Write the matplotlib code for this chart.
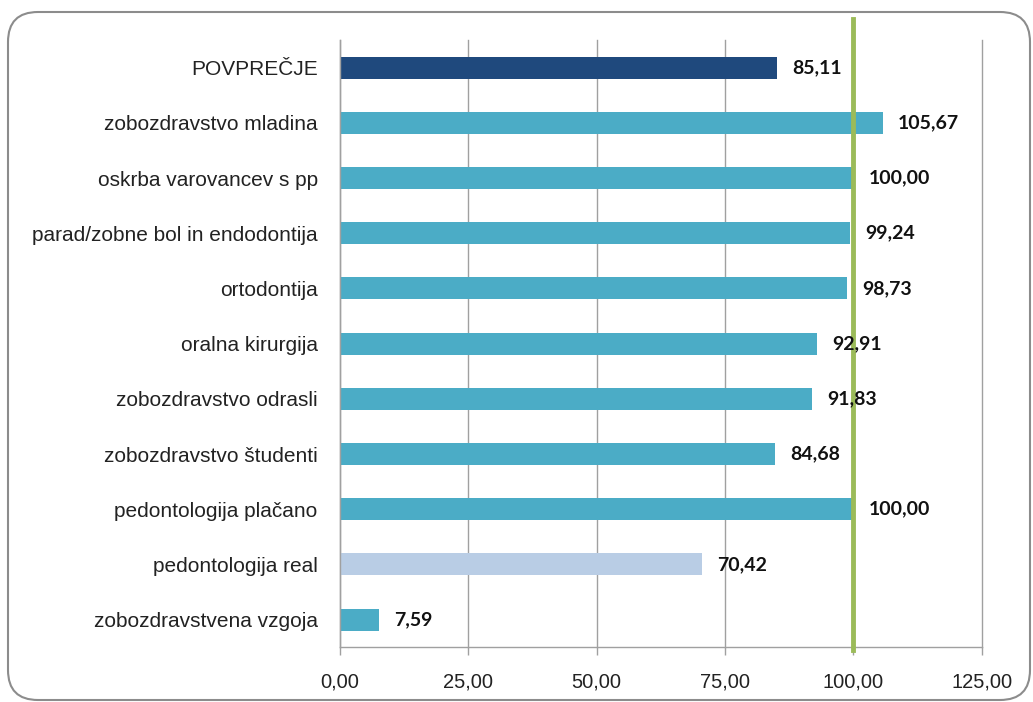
import matplotlib.pyplot as plt
from matplotlib.patches import FancyBboxPatch

# data, top to bottom as in the chart
categories = [
    "POVPREČJE",
    "zobozdravstvo mladina",
    "oskrba varovancev s pp",
    "parad/zobne bol in endodontija",
    "ortodontija",
    "oralna kirurgija",
    "zobozdravstvo odrasli",
    "zobozdravstvo študenti",
    "pedontologija plačano",
    "pedontologija real",
    "zobozdravstvena vzgoja",
]
values = [85.11, 105.67, 100.00, 99.24, 98.73, 92.91, 91.83, 84.68, 100.00, 70.42, 7.59]
bar_colors = ["#1F497D"] + ["#4BACC6"] * 8 + ["#B9CDE5", "#4BACC6"]
target = 100.0
xticks = [0, 25, 50, 75, 100, 125]

plt.rcParams["font.family"] = ["Liberation Sans", "DejaVu Sans"]

fig = plt.figure(figsize=(10.33, 7.02), dpi=100)
ax = fig.add_axes([0.329, 0.078, 0.6215, 0.865])

pos = list(range(len(categories)))
ax.barh(pos, values, height=0.4, color=bar_colors, zorder=2)
ax.set_ylim(len(categories) - 0.5, -0.5)
ax.set_xlim(0, 125)

ax.set_yticks(pos)
ax.set_yticklabels(categories, fontsize=15, color="#222222")
ax.tick_params(axis="y", length=0, pad=16)

ax.set_xticks(xticks)
ax.set_xticklabels([f"{t:.2f}".replace(".", ",") for t in xticks], fontsize=14.5, color="#222222")
ax.tick_params(axis="x", length=6, width=1, color="#A0A0A0", pad=12)

ax.grid(axis="x", color="#A0A0A0", linewidth=1, zorder=0)
for gl in ax.get_xgridlines():
    gl.set_clip_on(False)
ax.set_axisbelow(True)
for side in ["top", "right"]:
    ax.spines[side].set_visible(False)
for side in ["left", "bottom"]:
    ax.spines[side].set_color("#A0A0A0")
    ax.spines[side].set_linewidth(1)

# value labels
for p, v in zip(pos, values):
    ax.annotate(f"{v:.2f}".replace(".", ","), (v, p), xytext=(11, 0),
                textcoords="offset points", va="center", ha="left",
                fontsize=14, fontweight="bold", family=["Lato", "DejaVu Sans"],
                color="#111111", zorder=4)

# target line at 100
ax.axvline(target, ymin=-0.005, ymax=1.035, color="#9BBB59", linewidth=3.5,
           clip_on=False, zorder=3)

# rounded frame around the whole chart
frame = FancyBboxPatch((0.08, 0.02), 10.22, 6.88,
                       boxstyle="round,pad=0,rounding_size=0.3",
                       transform=fig.dpi_scale_trans, fill=False,
                       edgecolor="#8C8C8C", linewidth=1.5)
fig.patches.append(frame)

fig.savefig("out.png", dpi=100)
